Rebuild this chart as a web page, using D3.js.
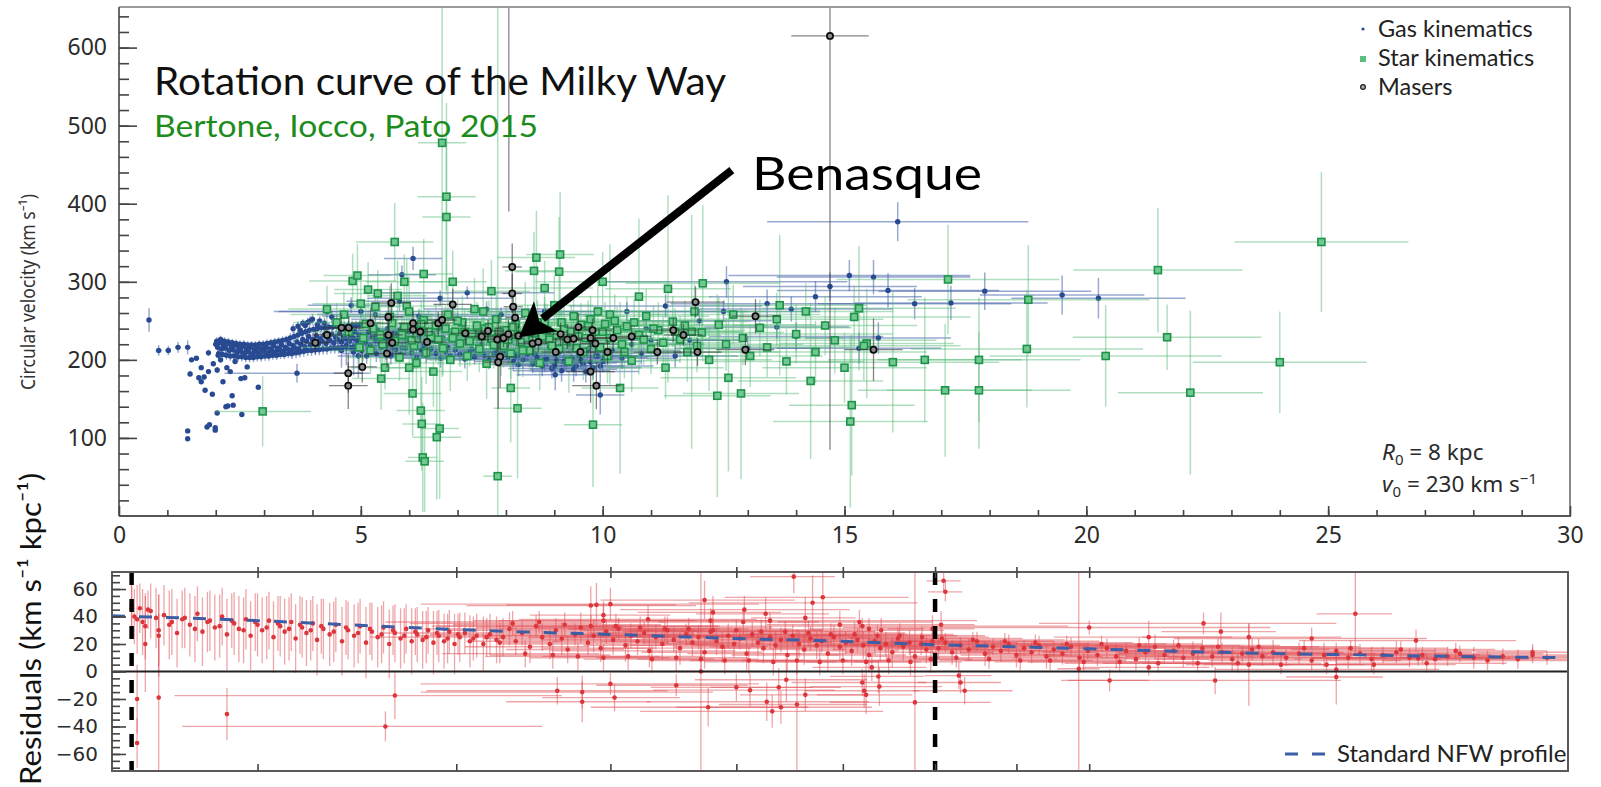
<!DOCTYPE html>
<html><head><meta charset="utf-8">
<script src="https://cdn.jsdelivr.net/npm/d3@7"></script>
<style>body{margin:0;background:#fff}svg{display:block}</style>
</head><body>
<svg id="c" width="1601" height="787"></svg>
<script>
// ---------------- DATA ----------------
// top panel: [R (kpc), v (km/s), xerr, yerr]
const gas = [
[0.62,251,0.04,15],[0.82,212,0.06,7],[1.02,212,0.06,6],[1.22,216,0.06,7],[1.42,216,0.06,9],
[1.42,109,0,0],[1.42,99,0,0],[1.47,182,0,4],[1.5,200,0,3],[1.6,202,0,3],[1.65,177,0,3],[1.7,190,0,3],[1.7,172,0,3],[1.76,178,0,3],[1.78,161,0,0],[1.82,114,0,0],[1.87,117,0,0],[1.85,209,0,4],[1.85,185,0,3],[1.93,156,0,0],[1.99,113,0,0],[1.99,110,0,0],[2.03,132,0,0],[2.03,187,0,4],[2.05,206,0,4],[2.21,140,0,0],[2.25,141,0,0],[2.34,154,0,0],[2.36,142,0,0],[2.54,130,0,0],[2.23,190,0,3],[2.3,185,0,3],[2.52,176,0,3],[2.6,177,0,3],[2.88,165,0,0],[2.65,191,0,3],[2.1,200,0,4],[2.4,198,0,3],[1.95,195,0,3],[2.15,172,0,3],
[2.00,220,0,6],[2.04,216,0,7],[2.08,222,0,5],[2.12,214,0,8],[2.16,219,0,6],[2.20,215,0,7],[2.24,221,0,5],[2.28,212,0,8],[2.32,217,0,6],[2.36,213,0,7],[2.40,219,0,5],[2.44,210,0,8],[2.48,215,0,7],[2.52,211,0,6],[2.56,217,0,5],[2.60,209,0,8],[2.64,214,0,6],[2.68,210,0,7],[2.72,216,0,6],[2.76,208,0,8],[2.80,213,0,7],[2.84,210,0,6],[2.88,215,0,5],[2.92,209,0,8],[2.96,214,0,6],[3.00,211,0,7],[3.04,216,0,6],[3.08,209,0,8],[3.12,214,0,7],[3.16,212,0,6],[3.20,218,0,5],[3.24,210,0,8],[3.28,215,0,7],[3.32,213,0,6],[3.36,219,0,6],[3.40,211,0,8],[3.44,216,0,7],[3.48,214,0,6],[3.52,221,0,6],[3.56,212,0,9],[3.60,218,0,7],[3.64,215,0,7],[3.68,223,0,6],[3.72,214,0,9],[3.76,220,0,7],[3.80,226,0,8],[3.84,217,0,9],[3.88,224,0,8],[3.92,230,0,7],[3.96,219,0,10],[4.00,226,0,8],[4.04,222,0,9],[4.08,231,0,7],[4.12,220,0,10],[4.16,227,0,8],[4.20,224,0,9],[4.24,232,0,8],[4.28,221,0,10],[4.32,228,0,8],[4.36,225,0,9],[4.40,233,0,8],[4.44,222,0,10],[4.48,229,0,9],[4.52,226,0,9],[4.56,234,0,8],[4.60,223,0,10],[4.64,230,0,9],[4.68,227,0,9],[4.72,235,0,8],[4.76,224,0,10],[4.80,231,0,9],[4.84,228,0,9],[4.88,236,0,8],[4.92,225,0,10],[4.96,232,0,9],[5.00,229,0,9],
[2.02,224,0,5],[2.06,208,0,6],[2.10,226,0,5],[2.14,207,0,6],[2.18,224,0,5],[2.22,206,0,6],[2.26,223,0,5],[2.30,205,0,6],[2.34,222,0,5],[2.38,205,0,6],[2.42,221,0,5],[2.46,204,0,6],[2.50,220,0,5],[2.54,204,0,6],[2.58,220,0,5],[2.62,203,0,6],[2.66,219,0,5],[2.70,203,0,6],[2.74,219,0,5],[2.78,203,0,6],[2.82,219,0,5],[2.86,204,0,6],[2.90,220,0,5],[2.94,204,0,6],[2.98,220,0,5],[3.02,205,0,6],[3.06,221,0,5],[3.10,205,0,6],[3.14,222,0,5],[3.18,206,0,6],[3.22,223,0,5],[3.26,206,0,6],[3.30,224,0,5],[3.34,207,0,6],[3.38,225,0,5],[3.42,207,0,6],[3.46,226,0,5],[3.50,208,0,6],[3.54,228,0,6],[3.58,208,0,7],[3.62,230,0,6],[3.66,209,0,7],[3.70,232,0,6],[3.74,210,0,7],[3.78,234,0,6],[3.82,211,0,7],[3.86,236,0,6],[3.90,212,0,7],[3.94,238,0,6],[3.98,212,0,7],[4.02,239,0,6],[4.06,213,0,7],[4.10,240,0,6],[4.14,213,0,7],[4.18,241,0,6],[4.22,214,0,7],[4.26,241,0,6],[4.30,214,0,7],[4.34,242,0,6],[4.38,215,0,7],[4.42,242,0,6],[4.46,215,0,7],[4.50,243,0,6],[4.54,215,0,7],[4.58,243,0,6],[4.62,216,0,7],[4.66,243,0,6],[4.70,216,0,7],[4.74,244,0,6],[4.78,216,0,7],[4.82,244,0,6],[4.86,217,0,7],[4.90,244,0,6],[4.94,217,0,7],[4.98,245,0,6],
[3.75,238,0,6],[3.85,244,0,6],[3.9,248,0,6],[4.0,252,0,7],[4.15,250,0,6],[4.25,247,0,7],[4.4,255,0,8],
[3.68,183,1.5,12],[3.6,240,0,6],[3.7,243,0,6],[3.8,247,0,5],[3.95,250,0,6],[4.1,245,0,7],[4.3,242,0,6],[4.5,250,0,8],[4.85,210,0,30],[4.95,205,0,28],[4.6,212,0,22],[4.7,218,0,25],
[4.3,262,1.0,8],[4.8,270,0.9,10],[5.3,258,1.2,9],[5.8,275,1.1,12],[6.08,330,0.6,15],[5.85,309,0.7,12],[6.64,279,1.5,10],[7.2,286,1.8,8],[7.6,265,1.3,10],[9.02,181,0.8,20],[8.26,194,0.6,15],[9.95,155,0.5,25],
[5.0,262,1.8,8],[6.2,256,2.0,8],[7.0,252,2.2,9],[7.9,258,1.9,9],[8.8,262,1.6,10],
[5.05,228,0.4,10],[5.1,222,0.6,9],[5.15,235,0.3,12],[5.2,218,0.8,10],[5.25,230,0.5,9],[5.3,225,0.7,11],[5.35,238,0.4,10],[5.4,221,0.9,12],[5.45,232,0.5,9],[5.5,227,0.6,10],[5.55,240,0.3,11],[5.6,219,0.8,12],[5.65,229,0.5,9],[5.7,234,0.7,10],[5.75,224,0.4,11],[5.8,238,0.9,10],[5.85,216,0.5,12],[5.9,231,0.6,9],[5.95,226,0.8,10],[6.0,236,0.4,11],[6.1,222,1.0,10],[6.2,230,0.5,9],[6.3,218,0.7,12],[6.4,234,0.9,10],[6.5,225,0.6,11],[6.6,240,0.8,10],[6.7,228,1.1,9],[6.8,216,0.5,12],[6.9,232,0.7,10],[7.0,222,1.0,11],[7.1,236,0.6,9],[7.2,226,0.8,10],[7.3,214,1.2,12],[7.4,230,0.5,10],[7.5,220,0.9,11],[7.6,238,0.7,9],[7.7,225,1.0,10],[7.8,210,0.6,14],[7.9,232,0.8,10],[8.0,219,1.1,12],[8.1,228,0.6,9],[8.2,205,0.9,15],[8.3,222,0.7,10],[8.4,214,1.2,12],[8.5,230,0.8,10],[8.6,208,1.0,14],[8.7,224,0.6,11],[8.8,200,0.9,15],[8.9,216,1.1,12],[9.0,193,0.7,16],[9.1,210,1.0,12],[9.2,198,0.8,14],[9.3,220,1.2,11],[9.4,188,0.9,16],[9.5,206,1.1,12],[9.6,196,0.7,14],[9.7,214,1.3,11],[9.8,190,1.0,15],[9.9,205,1.2,12],[10.0,198,0.8,14],[10.2,212,1.4,12],[10.4,202,1.1,14],[10.6,220,1.5,12],[10.8,208,1.2,14],[11.0,225,1.6,12],
[5.02,212,0.4,9],[5.12,205,0.6,10],[5.22,214,0.5,9],[5.32,208,0.7,11],[5.42,216,0.4,9],[5.52,210,0.6,10],[5.62,205,0.8,11],[5.72,213,0.5,9],[5.82,207,0.7,10],[5.92,215,0.4,9],[6.05,209,0.6,10],[6.15,203,0.8,11],[6.25,212,0.5,9],[6.35,206,0.7,10],[6.45,214,0.4,9],[6.55,208,0.6,10],[6.65,202,0.8,12],[6.75,211,0.5,9],[6.85,205,0.7,10],[6.95,213,0.4,9],[7.05,207,0.6,10],[7.15,201,0.8,12],[7.25,210,0.5,9],[7.35,204,0.7,10],[7.45,212,0.4,9],[7.55,206,0.6,10],[7.65,200,0.8,12],[7.75,208,0.5,9],[7.85,202,0.7,11],[7.95,210,0.4,9],[8.05,204,0.6,10],[8.15,198,0.8,12],[8.25,206,0.5,10],[8.35,200,0.7,11],[8.45,208,0.5,10],[8.55,195,0.8,12],[8.65,203,0.6,10],[8.75,192,0.9,13],[8.85,201,0.6,10],[8.95,189,0.9,13],[9.05,199,0.7,11],[9.15,186,1.0,14],[9.25,196,0.7,11],[9.35,203,0.8,10],[9.45,192,1.0,13],[9.55,200,0.8,11],[9.65,185,1.1,14],[9.75,197,0.8,11],[9.85,205,0.9,10],[9.95,192,1.1,13],[10.05,203,0.9,11],
[10.5,262,2.5,12],[11.3,269,2.0,15],[12.56,300,2.5,20],[13.4,272,2.0,18],[13.6,242,1.5,15],[14.4,281,2.2,20],[14.7,294,1.8,18],[15.1,308,2.5,20],[15.6,306,2.0,22],[15.7,228,1.5,20],[16.1,377,2.7,25],[16.45,272,2.0,20],[17.2,273,2.0,22],[17.9,288,2.2,24],[19.5,283,1.7,25],[20.25,279,1.8,26],[12.0,250,1.5,15],[11.8,225,1.2,15],[13.0,215,1.5,15],[14.0,230,1.8,18],[15.3,215,1.7,20],[12.5,262,2.0,14],[10.9,240,1.5,12],[11.5,205,1.3,15],[13.9,265,2.1,16],[15.9,289,2.3,22]
];
const stars = [
[2.97,134,1.0,45],[4.3,265,0.8,30],[4.83,301,0.9,35],[4.93,308,0.7,40],[4.97,216,1.2,25],[5.42,176,0.6,40],[5.7,351,0.8,50],[5.76,282,0.6,45],[6.0,190,0.5,60],[6.07,157,0.6,55],[6.24,135,0.5,70],[6.26,118,0.4,60],[6.28,75,0.3,70],[6.32,70,0.4,65],[6.57,101,0.5,80],[6.63,112,0.4,90],[6.68,478,0.5,300],[6.77,409,0.6,120],[6.77,383,0.5,100],[5.95,269,0.7,60],[7.53,262,0.9,55],[7.9,219,0.6,40],[7.83,51,0.3,650],[8.1,164,0.4,70],[8.24,138,0.5,90],[8.63,331,0.8,60],[8.58,314,0.6,50],[9.12,335,0.7,80],[9.1,313,0.9,70],[9.8,117,0.6,80],[10.15,258,1.2,90],[10.36,164,0.8,110],[10.75,281,1.5,100],[11.35,291,1.3,120],[11.84,236,1.0,150],[12.07,298,1.6,100],[12.37,154,1.1,130],[12.6,177,1.4,120],[12.86,157,1.2,110],[13.66,270,1.8,90],[14.3,173,1.5,100],[15.12,121,1.6,110],[15.15,142,1.3,90],[15.3,266,2.0,80],[15.46,221,1.8,70],[16.0,197,2.2,90],[16.66,200,2.0,80],[17.08,161,1.8,85],[17.14,303,2.3,70],[17.78,161,1.9,75],[17.78,200,2.1,80],[18.8,277,2.5,70],[18.77,214,2.4,75],[20.4,205,2.4,65],[21.48,315,1.75,80],[21.67,229,1.95,42],[22.15,158,1.5,105],[24.0,197,1.8,65],[24.86,351,1.8,90],
[5.1,246,0.6,25],[5.2,212,0.8,30],[5.3,268,0.5,22],[5.4,232,1.0,35],[5.5,190,0.7,28],[5.6,255,0.9,40],[5.7,224,0.6,25],[5.8,203,1.1,30],[5.9,242,0.8,32],[6.0,262,0.5,45],[6.1,218,0.7,30],[6.15,196,0.6,35],[6.2,238,0.9,28],[6.3,251,0.6,33],[6.35,209,0.5,40],[6.45,229,0.8,30],[6.5,185,0.6,45],[6.55,244,0.7,28],[6.7,215,0.9,35],[6.8,258,0.6,38],[6.85,200,0.5,40],[6.95,236,0.8,26],[7.05,221,0.7,30],[7.1,248,1.0,35],[7.2,205,0.6,32],[7.3,233,0.9,28],[7.35,265,0.5,40],[7.45,214,0.8,30],[7.55,240,0.7,25],[7.6,195,0.6,45],[7.7,227,1.0,30],[7.8,252,0.7,35],[7.95,218,0.8,28],[8.0,238,0.6,30],[8.1,208,0.9,32],[8.2,246,0.7,36],[8.3,223,1.1,30],[8.4,260,0.8,40],[8.5,212,0.6,28],[8.6,235,1.0,30],[8.7,196,0.7,35],[8.8,248,0.9,33],[8.9,226,1.2,30],[9.0,270,0.8,38],[9.1,214,1.0,32],[9.2,240,1.3,30],[9.3,198,0.9,40],[9.4,256,1.1,34],[9.5,230,1.4,30],[9.6,210,1.0,36],[9.7,244,1.2,32],[9.8,222,1.5,28],[9.9,262,1.0,40],[10.0,236,1.3,30],[10.1,205,1.1,35],[10.25,250,1.6,34],[10.4,220,1.2,30],[10.5,243,1.4,38],[10.6,199,1.0,40],[10.75,232,1.7,30],[10.9,256,1.3,35],[11.0,214,1.5,32],[11.15,238,1.8,36],[11.3,190,1.2,40],[11.45,249,1.6,33],[11.6,226,1.4,30],[11.75,210,1.9,38],[11.9,262,1.5,35],[12.05,235,1.7,32],[12.2,200,1.3,40],[12.4,245,2.0,36],[12.55,220,1.6,34],[12.7,258,1.8,38],[12.9,228,2.1,35],[13.05,205,1.5,40],[13.25,241,1.9,36],[13.4,216,1.7,38],[13.6,252,2.2,34],[13.8,198,1.6,42],[14.0,233,2.0,38],[14.2,262,1.8,36],[14.4,210,2.3,40],[14.6,244,1.9,38],[14.8,225,2.1,42],[15.0,190,1.7,45],[15.2,255,2.4,40],[15.4,218,2.0,44],
[5.05,228,0.5,30],[5.25,240,0.7,28],[5.45,220,0.6,32],[5.65,247,0.8,30],[5.85,232,0.5,26],[6.05,225,0.9,34],[6.25,246,0.6,30],[6.4,236,0.7,28],[6.6,226,0.8,32],[6.75,240,0.6,30],[6.9,228,1.0,34],[7.0,250,0.7,28],[7.15,236,0.8,30],[7.25,224,0.6,32],[7.4,244,0.9,30],[7.5,230,0.7,26],[7.65,242,0.8,34],[7.75,219,0.6,30],[7.85,236,1.0,28],[8.05,226,0.7,32],[8.15,242,0.8,30],[8.25,232,0.6,28],[8.35,212,0.9,34],[8.45,240,0.7,30],[8.55,225,1.0,32],[8.65,248,0.8,28],[8.75,230,0.6,30],[8.85,238,0.9,34],[8.95,218,0.7,30],[9.05,232,1.1,28],[9.15,248,0.8,32],[9.25,224,1.0,30],[9.35,236,0.7,34],[9.45,215,1.2,30],[9.55,245,0.9,28],[9.65,228,1.1,32],[9.75,252,0.8,30],[9.85,236,1.3,34],[9.95,216,1.0,30],[10.05,246,1.2,28],[10.15,228,0.9,32],[10.3,238,1.4,30],[10.45,210,1.1,34],[10.65,248,1.3,30],[10.85,226,1.5,32],[11.05,240,1.2,30],[11.25,222,1.6,34],[11.5,236,1.4,30],[11.7,244,1.7,32],[11.95,218,1.5,34],
[4.5,248,0.9,25],[4.65,258,1.1,30],[4.75,236,0.8,28],[5.0,272,1.0,30],[5.15,290,0.7,35],[5.35,285,0.9,30],[5.9,300,0.8,35],[6.3,310,0.6,45],[6.9,300,0.7,40],[7.7,288,0.8,40],[8.8,292,1.0,35],[10.0,300,1.4,38]
];
const masers = [
[4.06,222,0.3,15],[4.3,232,0.3,12],[4.6,241,0.4,18],[4.75,241,0.3,15],[5.2,247,0.4,20],[4.74,183,0.3,25],[4.74,167,0.4,30],[5.03,191,0.3,20],[5.57,232,0.3,15],[5.54,208,0.4,18],[5.65,222,0.3,15],[5.57,255,0.3,20],[5.63,273,0.4,25],[6.08,247,0.3,15],[6.08,239,0.3,12],[6.23,236,0.3,14],[6.37,223,0.4,18],[6.6,247,0.3,15],[6.68,251,0.3,12],[6.9,271,0.4,20],[7.16,234,0.3,15],[7.5,230,0.3,12],[7.63,237,0.3,14],[7.82,226,0.3,15],[7.95,228,0.3,12],[8.05,233,0.3,18],[8.13,319,0.2,30],[8.13,285,0.2,25],[8.15,268,0.2,20],[8.19,254,0.2,15],[8.26,231,0.3,15],[7.88,204,0.3,40],[7.84,197,0.3,60],[8.55,221,0.3,15],[8.67,223,0.3,14],[9.03,210,0.3,18],[9.13,233,0.3,15],[9.27,226,0.3,12],[9.4,227,0.3,14],[9.54,210,0.3,16],[9.5,242,0.3,18],[9.79,238,0.4,15],[9.75,228,0.4,14],[9.85,221,0.3,12],[10.1,210,0.4,16],[9.75,185,0.5,40],[9.87,167,0.5,30],[10.22,228,0.4,15],[10.6,230,0.4,14],[11.13,210,0.5,16],[11.46,238,0.5,15],[11.67,232,0.4,14],[11.92,274,0.6,20],[11.96,210,0.5,18],[12.95,213,0.6,20],[13.16,256,0.5,22],[15.6,213,0.6,40],[14.7,615,0.8,530],[8.06,680,0,290]
];
// bottom panel: [R (kpc), residual, xerr, yerr]
const residuals = [
[2.50,46,0,22],[2.52,38,0,25],[2.55,33,0,24],[2.57,44,0,20],[2.60,30,0,26],[2.62,41,0,22],[2.65,36,0,24],[2.67,28,0,25],[2.70,39,0,22],[2.72,34,0,23],[2.75,42,0,20],[2.77,29,0,25],[2.80,37,0,22],[2.82,32,0,24],[2.85,40,0,21],[2.87,27,0,26],[2.90,35,0,23],[2.92,31,0,24],[2.95,38,0,22],[2.97,26,0,25],[3.00,34,0,23],[3.02,30,0,24],[3.05,37,0,21],[3.07,25,0,26],[3.10,33,0,22],[3.12,29,0,24],[3.15,36,0,21],[3.17,24,0,25],[3.20,32,0,22],[3.22,28,0,24],[3.25,35,0,20],[3.27,23,0,26],[3.30,31,0,22],[3.33,27,0,23],[3.36,34,0,20],[3.39,22,0,25],[3.42,30,0,21],[3.45,26,0,23],[3.48,33,0,20],[3.51,21,0,26],[3.54,29,0,21],[3.57,25,0,22],[3.60,32,0,19],[3.63,20,0,25],[3.66,28,0,21],[3.69,24,0,22],[3.72,31,0,18],[3.75,22,0,24],[3.78,27,0,20],[3.81,23,0,21],[3.84,30,0,17],[3.87,21,0,23],[3.90,26,0,19],[3.93,22,0,20],[3.96,29,0,16],[3.99,20,0,22],[4.02,25,0,18],[4.05,28,0,15],[4.08,22,0,19],[4.12,26,0,16],[4.16,20,0,20],[4.20,27,0,15],[4.24,23,0,17],[4.28,25,0,14],
[2.51,40,0,20],[2.54,36,0,24],[2.59,39,0,22],[2.64,34,0,25],[2.69,38,0,21],[2.74,31,0,24],[2.79,36,0,22],[2.84,33,0,23],[2.89,37,0,20],[2.94,30,0,24],[2.99,36,0,21],[3.04,32,0,23],[3.09,35,0,20],[3.14,31,0,23],[3.19,34,0,21],[3.24,30,0,22],[3.29,33,0,20],[3.35,29,0,22],[3.41,32,0,20],[3.47,28,0,22],[3.53,31,0,19],[3.59,27,0,21],[3.65,30,0,18],[3.71,26,0,20],[3.77,29,0,17],[3.83,25,0,19],[3.89,28,0,16],[3.95,24,0,18],[4.01,27,0,15],[4.1,24,0,16],[4.18,25,0,14],[4.26,21,0,15],
[2.5,48,0,15],[2.53,46,0,18],[2.56,45,0,14],[2.52,-20,0,25],[2.52,-52,0,18],[2.6,-19,0,61],[2.87,-31,0,19],[3.61,-40,0.92,11],[3.66,-17.5,1.0,17],[2.6,26,0,30],[2.55,20,0,35],
[4.32,31,0.5,12],[4.36,22,0.3,10],[4.40,28,0.8,9],[4.45,18,0.4,12],[4.49,33,0.6,8],[4.53,25,1.0,10],[4.58,20,0.3,11],[4.62,30,0.7,9],[4.66,24,0.5,12],[4.70,16,0.4,10],[4.75,27,0.9,8],[4.79,32,0.3,11],[4.84,21,0.6,9],[4.88,26,1.1,12],[4.93,17,0.4,10],[4.97,29,0.7,9],[5.02,23,0.5,11],[5.06,31,0.8,8],[5.11,19,0.3,12],[5.15,26,1.0,9],[5.20,22,0.6,10],[5.25,28,0.4,8],[5.29,15,0.7,12],[5.34,25,0.9,9],[5.39,20,0.5,11],[5.43,30,0.3,10],[5.48,23,1.2,9],[5.53,17,0.6,12],[5.58,27,0.8,8],[5.63,21,0.4,10],[5.68,25,1.0,9],[5.73,14,0.5,12],[5.78,29,0.7,8],[5.83,22,0.9,10],[5.88,18,0.4,11],[5.93,26,1.1,9],[5.98,20,0.6,10],[6.03,24,0.8,8],[6.09,13,0.5,12],[6.14,27,1.0,9],[6.19,21,0.7,10],[6.24,17,0.4,11],[6.30,25,0.9,8],[6.35,19,1.2,10],[6.40,23,0.6,9],[6.46,12,0.5,12],[6.51,26,0.8,8],[6.57,20,1.0,10],[6.62,16,0.4,11],[6.68,24,0.7,9],[6.74,19,1.1,10],[6.79,22,0.6,8],[6.85,13,0.5,12],[6.91,25,0.9,9],[6.97,18,1.2,10],[7.03,21,0.7,8],[7.09,15,0.5,11],[7.15,23,1.0,9],[7.21,19,0.6,10],[7.27,12,0.4,12],[7.33,22,0.8,8],[7.39,17,1.1,10],[7.45,20,0.7,9],[7.52,14,0.5,11],[7.58,24,0.9,8],[7.64,18,1.3,10],[7.71,21,0.6,9],[7.77,11,0.5,12],[7.84,20,0.8,8],[7.90,16,1.0,10],[7.97,22,0.7,9],
[4.34,35,0.6,9],[4.42,13,0.5,10],[4.51,36,0.9,8],[4.6,12,0.4,10],[4.68,34,0.7,9],[4.77,11,0.6,10],[4.86,33,1.0,8],[4.95,10,0.5,10],[5.04,33,0.8,9],[5.13,11,0.6,10],[5.22,32,1.1,8],[5.31,9,0.5,10],[5.41,31,0.7,9],[5.5,10,0.6,10],[5.6,31,0.9,8],[5.7,9,0.5,10],[5.8,30,1.0,9],[5.9,8,0.6,10],[6.0,30,0.8,8],[6.11,8,0.5,10],[6.22,29,1.1,9],[6.33,7,0.6,10],[6.44,29,0.9,8],[6.55,8,0.5,10],[6.66,28,1.0,9],[6.77,7,0.6,10],[6.88,27,0.8,8],[7.0,8,0.5,10],[7.12,27,1.1,9],[7.24,7,0.6,10],[7.36,26,0.9,8],[7.48,8,0.5,10],[7.6,26,1.0,9],[7.72,7,0.6,10],[7.85,25,0.8,8],[7.95,9,0.5,10],
[8.04,17,0.6,8],[8.12,21,0.9,7],[8.20,14,0.5,9],[8.30,19,1.2,6],[8.40,16,0.7,8],[8.50,22,1.0,7],[8.60,13,0.6,9],[8.70,18,1.3,6],[8.80,15,0.8,8],[8.90,20,1.1,7],[9.00,12,0.7,9],[9.10,17,1.4,6],[9.20,14,0.9,8],[9.30,19,1.2,7],[9.40,11,0.8,9],[9.50,16,1.5,6],[9.62,13,1.0,8],[9.74,18,1.3,7],[9.86,10,0.9,9],[9.98,15,1.6,6],[10.12,12,1.1,8],[10.26,17,1.4,7],[10.40,11,1.0,9],[10.55,15,1.7,6],[10.70,9,1.2,8],[10.85,14,1.5,7],[11.00,18,1.1,9],[11.15,12,1.8,6],[11.30,15,1.3,8],[11.46,10,1.6,7],[11.62,13,1.2,9],[11.78,17,1.9,6],[11.95,11,1.4,8],[12.12,14,1.7,7],[12.30,9,1.3,9],[12.48,13,2.0,6],[12.66,16,1.5,8],[12.85,11,1.8,7],[13.05,14,1.4,9],[13.30,10,2.1,6],[13.55,13,1.6,8],[13.80,8,1.9,7],[14.05,12,1.5,9],[14.30,15,2.2,6],[14.55,10,1.7,8],[14.80,13,2.0,7],[15.05,9,1.6,9],[15.30,12,2.3,6],[15.60,14,1.8,8],[15.90,10,2.1,7],[16.20,12,1.7,6],[16.50,9,2.4,8],[16.80,11,1.9,7],[17.10,13,2.2,6],[17.45,10,1.8,8],[17.80,8,2.5,7],[18.20,11,2.0,6],[18.60,9,2.3,7],[19.00,12,1.9,6],[19.40,10,2.2,5],
[8.08,24,1.0,6],[8.25,10,0.8,7],[8.45,23,1.2,6],[8.65,9,0.9,7],[8.85,22,1.3,6],[9.05,8,1.0,7],[9.25,21,1.4,6],[9.45,8,1.1,7],[9.68,20,1.5,6],[9.92,7,1.2,7],[10.18,20,1.6,6],[10.45,7,1.3,7],[10.75,19,1.7,6],[11.05,6,1.4,7],[11.38,19,1.8,6],[11.7,6,1.5,7],[12.05,18,1.9,6],[12.4,6,1.6,7],[12.78,18,2.0,6],[13.2,5,1.7,7],[13.65,17,2.1,6],[14.1,5,1.8,7],[14.6,17,2.2,6],[15.1,5,1.9,7],[15.7,16,2.3,6],[16.3,6,2.0,7],[17.0,15,2.4,6],
[4.86,48,0.8,14],[4.9,48.5,0.6,16],[5.0,49,1.2,12],[4.95,41,0.5,10],[4.95,37,0.7,12],[5.28,38,0.9,10],[5.73,52,0.8,14],[5.8,43,0.6,12],[5.78,37,0.5,9],[6.07,45,1.0,10],[6.06,36,0.7,9],[6.26,42,0.6,12],[6.52,69,0.4,12],[6.7,50,1.1,20],[6.8,54,0.9,24],[6.63,39,0.5,15],[6.97,34,0.7,10],[7.17,36,0.8,9],[7.27,31,0.6,8],[7.4,30,0.7,9],[7.97,31,0.5,10],[8.1,66,0.2,8],[8.12,58,0.2,7],[8.07,34,0.4,10],[14.7,42,0.8,30],[10.9,25,1.4,12],[12.1,29,1.0,14],[12.6,25,1.8,10],[13.8,24,2.5,8],[16.05,22.5,2.5,8],[19.0,14,1.5,6],[10.0,32,3.0,5],[11.8,35,2.5,8],[7.2,33,2.5,6],[6.3,37,2.2,6],
[4.63,-14,0.8,10],[4.8,-15,1.0,12],[4.8,-22,0.5,15],[5.0,-9,1.2,8],[5.03,-19,0.5,10],[5.5,-10,0.6,8],[5.7,0,0.5,75],[5.76,-26,0.9,14],[6.0,-11.5,0.7,10],[6.12,-13.6,0.8,12],[6.27,-22,1.0,14],[6.32,-29,1.1,12],[6.4,-26,0.9,12],[6.38,-11.5,0.6,14],[6.45,-6,0.8,16],[6.55,-24,0.7,55],[6.63,-17,0.6,12],[7.2,-8,0.7,10],[7.22,-14,0.6,12],[7.24,-17,0.5,14],[7.3,3,0.6,10],[7.37,-3.6,0.5,12],[7.38,-11,0.7,14],[7.77,-22.5,0.9,95],[8.28,-3,0.4,10],[8.3,-8,0.5,8],[8.35,-14,0.6,10],[9.85,2,0.3,80],[10.3,-6.5,0.6,8],[10.9,3,1.0,6],[12.0,-6.5,2.4,10],[12.6,5,0.8,30],[14.3,-4,1.0,20],[14.3,1.5,2.3,8],[16.1,9.5,2.3,5]
];
const nfwR   = [2.43,3,3.5,4,4.5,5,6,7,8,9,10,12,14,17,20];
const nfwRes = [40.5,37,33.5,30.5,28.5,27,24,22,19.5,18,16.5,14,12.5,11,10];
const refLinesR = [2.5, 8];
const topXTicks = [0,5,10,15,20,25,30];
const topYTicks = [100,200,300,400,500,600];
const botYTicks = [-60,-40,-20,0,20,40,60];
const botXTicks = [3,4,5,6,7,8,9,10];
const legendLabels = ["Gas kinematics","Star kinematics","Masers"];
const arrowFrom = [12.67,443], arrowTo = [8.27,229];

// ---------------- CHART ----------------
(function(){
const svg = d3.select("#c");
const x = d3.scaleLinear().domain([0,30]).range([119,1570]);
const y = d3.scaleLinear().domain([0,652]).range([516,7]);
const xb = d3.scaleLog().domain([2.43,20]).range([112,1568]);
const yb = d3.scaleLinear().domain([-72.4,72.4]).range([771,572]);

const defs = svg.append("defs");
defs.append("clipPath").attr("id","clipTop").append("rect")
  .attr("x",x(0)).attr("y",y(652)).attr("width",x(30)-x(0)).attr("height",y(0)-y(652));
defs.append("clipPath").attr("id","clipBot").append("rect")
  .attr("x",xb(2.43)).attr("y",yb(72.4)).attr("width",xb(20)-xb(2.43)).attr("height",yb(-72.4)-yb(72.4));

function errorBars(g, data, xs, ys, color, op, w, xmin){
  const gg = g.append("g").attr("stroke",color).attr("stroke-opacity",op).attr("stroke-width",w);
  gg.selectAll(null).data(data.filter(d=>d[2]>0)).join("line")
    .attr("x1",d=>xs(Math.max(d[0]-d[2],xmin))).attr("x2",d=>xs(d[0]+d[2]))
    .attr("y1",d=>ys(d[1])).attr("y2",d=>ys(d[1]));
  gg.selectAll(null).data(data.filter(d=>d[3]>0)).join("line")
    .attr("x1",d=>xs(d[0])).attr("x2",d=>xs(d[0]))
    .attr("y1",d=>ys(d[1]-d[3])).attr("y2",d=>ys(d[1]+d[3]));
}

// ---- top panel ----
const topG = svg.append("g").attr("clip-path","url(#clipTop)");
errorBars(topG, gas, x, y, "#4563a8", 0.55, 1.5, 0.01);
topG.append("g").selectAll(null).data(gas).join("circle")
  .attr("cx",d=>x(d[0])).attr("cy",d=>y(d[1])).attr("r",2.7).attr("fill","#284a91");
errorBars(topG, stars, x, y, "#4fb874", 0.45, 1.5, 0.01);
topG.append("g").selectAll(null).data(stars).join("rect")
  .attr("x",d=>x(d[0])-3.5).attr("y",d=>y(d[1])-3.5).attr("width",7).attr("height",7)
  .attr("fill","#72c891").attr("stroke","#1d9349").attr("stroke-width",1.6);
errorBars(topG, masers, x, y, "#333", 0.6, 1.3, 0.01);
topG.append("g").selectAll(null).data(masers).join("circle")
  .attr("cx",d=>x(d[0])).attr("cy",d=>y(d[1])).attr("r",3.1)
  .attr("fill","#8a8a8a").attr("stroke","#0a0a0a").attr("stroke-width",1.7);

// frame top panel
svg.append("line").attr("x1",x(0)).attr("x2",x(30)).attr("y1",y(652)).attr("y2",y(652)).attr("stroke","#9a9a9a").attr("stroke-width",2);
svg.append("line").attr("x1",x(30)).attr("x2",x(30)).attr("y1",y(652)).attr("y2",y(0)).attr("stroke","#8a8a8a").attr("stroke-width",2);
svg.append("line").attr("x1",x(0)).attr("x2",x(0)).attr("y1",y(652)).attr("y2",y(0)).attr("stroke","#6a6a6a").attr("stroke-width",2);
svg.append("line").attr("x1",x(0)).attr("x2",x(30)+1).attr("y1",y(0)).attr("y2",y(0)).attr("stroke","#555").attr("stroke-width",2);

function styleAxis(g, fs, fam){
  g.select(".domain").remove();
  g.selectAll(".tick line").attr("stroke","#444").attr("stroke-width",1.6);
  g.selectAll(".tick text").attr("fill","#2b2b2b").attr("font-family",fam||"'Noto Sans', sans-serif").attr("font-size",fs);
}
function minorAxis(g){
  g.select(".domain").remove();
  g.selectAll(".tick text").remove();
  g.selectAll(".tick line").attr("stroke","#444").attr("stroke-width",1.6);
}
svg.append("g").attr("transform",`translate(0,${y(0)})`)
  .call(d3.axisBottom(x).tickValues(d3.range(1,30)).tickSize(-6)).call(minorAxis);
svg.append("g").attr("transform",`translate(0,${y(0)})`)
  .call(d3.axisBottom(x).tickValues(topXTicks).tickSize(-10).tickPadding(11)).call(g=>styleAxis(g,23));
svg.append("g").attr("transform",`translate(${x(0)},0)`)
  .call(d3.axisLeft(y).tickValues(d3.range(20,652,20)).tickSize(-10)).call(minorAxis);
svg.append("g").attr("transform",`translate(${x(0)},0)`)
  .call(d3.axisLeft(y).tickValues(topYTicks).tickSize(-18).tickPadding(12)).call(g=>styleAxis(g,23));

// ---- bottom panel ----
const botG = svg.append("g").attr("clip-path","url(#clipBot)");
botG.append("rect").attr("x",1220).attr("y",566).attr("width",163).attr("height",7).attr("fill","#b8b8b8");
errorBars(botG, residuals, xb, yb, "#e04e54", 0.5, 1.3, 2.0);
botG.append("g").selectAll(null).data(residuals).join("circle")
  .attr("cx",d=>xb(d[0])).attr("cy",d=>yb(d[1])).attr("r",2.3).attr("fill","#dc363c");
const nfwPts = nfwR.map((r,i)=>[r,nfwRes[i]]);
botG.append("path").datum(nfwPts)
  .attr("d", d3.line().x(d=>xb(d[0])).y(d=>yb(d[1])).curve(d3.curveMonotoneX))
  .attr("fill","none").attr("stroke","#3d5da5").attr("stroke-width",3).attr("stroke-dasharray","13,14");
botG.append("line").attr("x1",xb(2.43)).attr("x2",xb(20)).attr("y1",yb(0)).attr("y2",yb(0))
  .attr("stroke","#222").attr("stroke-width",2);
botG.append("g").selectAll(null).data(refLinesR).join("line")
  .attr("x1",d=>xb(d)).attr("x2",d=>xb(d)).attr("y1",yb(72.4)).attr("y2",yb(-72.4))
  .attr("stroke","#000").attr("stroke-width",4.5).attr("stroke-dasharray","13,14");

svg.append("rect").attr("x",xb(2.43)).attr("y",yb(72.4)).attr("width",xb(20)-xb(2.43)).attr("height",yb(-72.4)-yb(72.4))
  .attr("fill","none").attr("stroke","#5a5a5a").attr("stroke-width",2);
svg.append("g").attr("transform",`translate(${xb(2.43)},0)`)
  .call(d3.axisLeft(yb).tickValues(d3.range(-70,71,5)).tickSize(-8)).call(minorAxis);
svg.append("g").attr("transform",`translate(${xb(2.43)},0)`)
  .call(d3.axisLeft(yb).tickValues(botYTicks).tickSize(-14).tickPadding(14).tickFormat(d3.format("d")))
  .call(g=>styleAxis(g,20,"'DejaVu Sans', sans-serif"));
svg.append("g").attr("transform",`translate(0,${yb(72.4)})`)
  .call(d3.axisTop(xb).tickValues(botXTicks).tickSize(5)).call(minorAxis);
svg.append("g").attr("transform",`translate(0,${yb(72.4)})`)
  .call(d3.axisTop(xb).tickValues(botXTicks).tickSize(-6)).call(minorAxis);
svg.append("g").attr("transform",`translate(0,${yb(-72.4)})`)
  .call(d3.axisBottom(xb).tickValues(botXTicks).tickSize(-7)).call(minorAxis);

// ---- labels ----
svg.append("text").attr("transform","translate(35,292) rotate(-90)").attr("text-anchor","middle")
  .attr("font-family","'Noto Sans', sans-serif").attr("font-size",20).attr("fill","#333")
  .attr("textLength",196).attr("lengthAdjust","spacingAndGlyphs").text("Circular velocity (km s⁻¹)");
svg.append("text").attr("transform","translate(41,785) rotate(-90)").attr("text-anchor","start")
  .attr("font-family","'Lato', sans-serif").attr("font-size",29).attr("fill","#111")
  .attr("textLength",312).attr("lengthAdjust","spacingAndGlyphs").text("Residuals (km s⁻¹ kpc⁻¹)");

svg.append("text").attr("x",154).attr("y",95).attr("font-family","'Lato', sans-serif").attr("font-size",38)
  .attr("fill","#111").attr("textLength",572).attr("lengthAdjust","spacingAndGlyphs").text("Rotation curve of the Milky Way");
svg.append("text").attr("x",154).attr("y",137).attr("font-family","'Lato', sans-serif").attr("font-size",30)
  .attr("fill","#1c8c1c").attr("textLength",384).attr("lengthAdjust","spacingAndGlyphs").text("Bertone, Iocco, Pato 2015");
svg.append("text").attr("x",752).attr("y",190).attr("font-family","'Lato', sans-serif").attr("font-size",46)
  .attr("fill","#000").attr("textLength",230).attr("lengthAdjust","spacingAndGlyphs").text("Benasque");

// arrow
const ax0=x(arrowFrom[0]), ay0=y(arrowFrom[1]), ax1=x(arrowTo[0]), ay1=y(arrowTo[1]);
const L=Math.hypot(ax1-ax0,ay1-ay0), ux=(ax1-ax0)/L, uy=(ay1-ay0)/L, nx=-uy, ny=ux;
const hl=34, hw=19, bx=ax1-ux*hl, by=ay1-uy*hl;
svg.append("line").attr("x1",ax0).attr("y1",ay0).attr("x2",bx+ux*4).attr("y2",by+uy*4)
  .attr("stroke","#000").attr("stroke-width",8);
svg.append("path").attr("d",`M${ax1},${ay1}L${bx+nx*hw},${by+ny*hw}L${bx+ux*8},${by+uy*8}L${bx-nx*hw},${by-ny*hw}Z`).attr("fill","#000");

// legend
const lg = svg.append("g").attr("font-family","'Lato', sans-serif").attr("font-size",23.5).attr("fill","#222");
lg.selectAll(null).data(legendLabels).join("text").attr("x",1378).attr("y",(d,i)=>37+i*29).text(d=>d);
lg.append("circle").attr("cx",1363).attr("cy",29).attr("r",1.6).attr("fill","#2a4c93");
lg.append("rect").attr("x",1360).attr("y",56).attr("width",6).attr("height",6).attr("fill","#5cbf7f");
lg.append("circle").attr("cx",1363).attr("cy",87).attr("r",2.4).attr("fill","#aaa").attr("stroke","#222").attr("stroke-width",1.2);

// R0 / v0
const pt = svg.append("g").attr("font-family","'Noto Sans', sans-serif").attr("font-size",22.5).attr("fill","#2b2b2b");
const t1 = pt.append("text").attr("x",1382).attr("y",460);
t1.append("tspan").attr("font-style","italic").text("R");
t1.append("tspan").attr("font-size",15).attr("dy",5).text("0");
t1.append("tspan").attr("dy",-5).text(" = 8 kpc");
const t2 = pt.append("text").attr("x",1382).attr("y",492);
t2.append("tspan").attr("font-style","italic").text("v");
t2.append("tspan").attr("font-size",15).attr("dy",5).text("0");
t2.append("tspan").attr("dy",-5).text(" = 230 km s");
t2.append("tspan").attr("font-size",15).attr("dy",-8).text("−1");

// NFW legend
svg.append("g").selectAll(null).data([1285,1312]).join("line")
  .attr("x1",d=>d).attr("x2",d=>d+13).attr("y1",754).attr("y2",754).attr("stroke","#3d5da5").attr("stroke-width",3);
svg.append("text").attr("x",1337).attr("y",762).attr("font-family","'Lato', sans-serif").attr("font-size",24)
  .attr("fill","#222").text("Standard NFW profile");
})();
</script>
</body></html>
